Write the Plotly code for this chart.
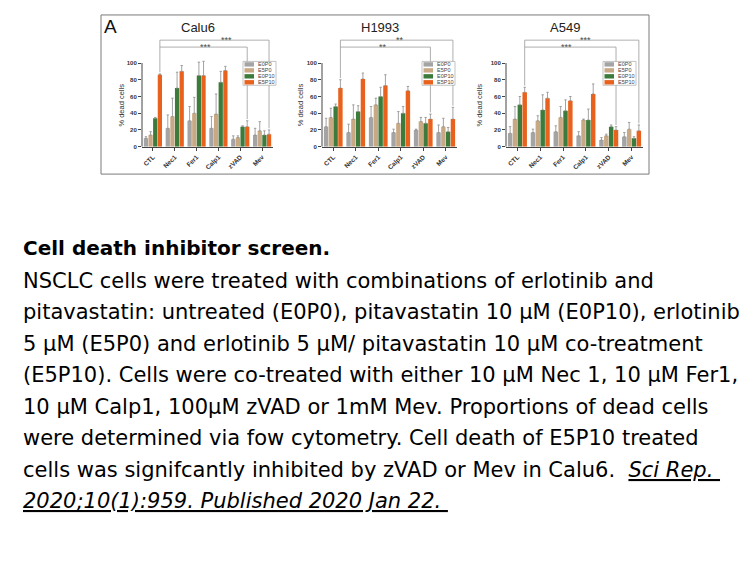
import plotly.graph_objects as go

# browser window size and the default page margin around the figure
WIN_W, WIN_H = 756, 567
OFF = 8
W, H = WIN_W - 2 * OFF, WIN_H - 2 * OFF

# ---------------- data ----------------
categories = ["CTL", "Nec1", "Fer1", "Calp1", "zVAD", "Mev"]
series_names = ["E0P0", "E5P0", "E0P10", "E5P10"]
series_colors = ["#a4a4a4", "#c9a985", "#3c7b3b", "#e8621d"]
panel_titles = ["Calu6", "H1993", "A549"]
y_ticks = [0, 20, 40, 60, 80, 100]
y_title = "% dead cells"

calu6_means = [
    [10, 22, 31, 22, 9, 14],
    [14, 36, 40, 39, 11, 19],
    [34, 70, 85, 77, 24, 14],
    [86, 90, 85, 91, 24, 15],
]
calu6_errs = [
    [2, 16, 17, 14, 4, 8],
    [4, 22, 19, 24, 2, 11],
    [1, 19, 16, 13, 1, 5],
    [1, 7, 17, 5, 7, 5],
]
h1993_means = [
    [24, 17, 35, 17, 20, 17],
    [35, 33, 50, 28, 30, 24],
    [48, 42, 60, 40, 28, 18],
    [70, 81, 73, 67, 33, 33],
]
h1993_errs = [
    [10, 10, 13, 4, 1, 9],
    [11, 17, 8, 14, 5, 10],
    [3, 7, 11, 8, 7, 5],
    [10, 7, 13, 5, 6, 14],
]
a549_means = [
    [16, 17, 18, 13, 8, 12],
    [33, 31, 35, 32, 13, 21],
    [50, 44, 43, 32, 24, 10],
    [65, 58, 55, 63, 20, 19],
]
a549_errs = [
    [8, 4, 7, 5, 3, 5],
    [15, 6, 13, 1, 2, 8],
    [10, 18, 13, 13, 2, 2],
    [6, 7, 5, 12, 4, 7],
]
sig_top = ["***", "**", "***"]   # CTL vs Mev
sig_low = ["***", "**", "***"]   # CTL vs zVAD
panel_letter = "A"

caption_title = "Cell death inhibitor screen."
caption_lines = [
    "NSCLC cells were treated with combinations of erlotinib and",
    "pitavastatin: untreated (E0P0), pitavastatin 10 µM (E0P10), erlotinib",
    "5 µM (E5P0) and erlotinib 5 µM/ pitavastatin 10 µM co-treatment",
    "(E5P10). Cells were co-treated with either 10 µM Nec 1, 10 µM Fer1,",
    "10 µM Calp1, 100µM zVAD or 1mM Mev. Proportions of dead cells",
    "were determined via fow cytometry. Cell death of E5P10 treated",
    "cells was signifcantly inhibited by zVAD or Mev in Calu6.  <i><u>Sci Rep. </u></i>",
    "<i><u>2020;10(1):959. Published 2020 Jan 22. </u></i>",
]

panels_means = [calu6_means, h1993_means, a549_means]
panels_errs = [calu6_errs, h1993_errs, a549_errs]

# ---------------- layout constants (window pixels) ----------------
def PX(x):
    return (x - OFF) / W

def PY(y):
    return 1 - (y - OFF) / H

plot_x_px = [(142, 273), (322, 457), (506, 643)]
y0_px, y100_px = 147.5, 63.3
y_top = 140
ppu = (y0_px - y100_px) / 100.0
ytop_px = y0_px - y_top * ppu

bargap = 0.15
bargroupgap = 0.08
orange_off = (1 - bargap) * (3.5 / 4 - 0.5)

bracket_top_y = 127.3
bracket_low_y = 119.0
star_top_x = [3.38, 2.97, 2.96]
star_low_x = [2.39, 2.22, 2.16]

title_px = [(197.5, 28), (380, 28), (565, 28)]
ytitle_px = [121.7, 300.5, 479.7]
legend_px = [(243, 61.7), (422, 61.7), (603, 61.7)]
leg_w, leg_h = 33, 24

AX_COLOR = "#444444"
FONT = "Liberation Sans"

fig = go.Figure()
shapes = []
annotations = []

for p in range(3):
    sfx = "" if p == 0 else str(p + 1)
    xname, yname = "x" + sfx, "y" + sfx
    means, errs = panels_means[p], panels_errs[p]
    for s in range(4):
        fig.add_trace(go.Bar(
            x=categories, y=means[s], name=series_names[s],
            marker=dict(color=series_colors[s], line=dict(width=0)),
            error_y=dict(type="data", symmetric=False, array=errs[s],
                         arrayminus=[0] * len(errs[s]), color="#8c8c8c",
                         thickness=0.8, width=1.2),
            xaxis=xname, yaxis=yname, showlegend=False, hoverinfo="skip",
        ))

    x0, x1 = plot_x_px[p]
    fig.update_layout(**{
        "xaxis" + sfx: dict(
            domain=[PX(x0), PX(x1)], anchor=yname, range=[-0.5, 5.5],
            showline=True, linecolor=AX_COLOR, linewidth=1,
            ticks="outside", ticklen=3, tickwidth=0.8, tickcolor=AX_COLOR,
            tickangle=-45, showgrid=False, zeroline=False,
            tickfont=dict(family=FONT, size=6.5, color="#333333", weight="bold"),
        ),
        "yaxis" + sfx: dict(
            domain=[PY(y0_px), PY(ytop_px)], anchor=xname, range=[0, y_top],
            tickvals=y_ticks, showline=False, showgrid=False, zeroline=False,
            ticks="outside", ticklen=3, tickwidth=0.8, tickcolor=AX_COLOR,
            tickfont=dict(family=FONT, size=6, color="#333333", weight="bold"),
        ),
    })

    # y axis line up to 100 only
    shapes.append(dict(type="line", xref="paper", yref=yname,
                       x0=PX(x0), x1=PX(x0), y0=0, y1=y_ticks[-1],
                       line=dict(color=AX_COLOR, width=1)))

    # significance brackets (CTL vs zVAD, CTL vs Mev on E5P10 bars)
    orange_m, orange_e = means[3], errs[3]
    i_ctl, i_zvad, i_mev = 0, categories.index("zVAD"), categories.index("Mev")
    xc, xz, xm = i_ctl + orange_off, i_zvad + orange_off, i_mev + orange_off
    bl = dict(color="#9a9a9a", width=0.8)
    shapes += [
        dict(type="line", xref=xname, yref=yname, x0=xc, x1=xc,
             y0=orange_m[i_ctl] + orange_e[i_ctl] + 2, y1=bracket_top_y, line=bl),
        dict(type="line", xref=xname, yref=yname, x0=xc, x1=xm,
             y0=bracket_top_y, y1=bracket_top_y, line=bl),
        dict(type="line", xref=xname, yref=yname, x0=xm, x1=xm,
             y0=orange_m[i_mev] + orange_e[i_mev] + 2, y1=bracket_top_y, line=bl),
        dict(type="line", xref=xname, yref=yname, x0=xc, x1=xz,
             y0=bracket_low_y, y1=bracket_low_y, line=bl),
        dict(type="line", xref=xname, yref=yname, x0=xz, x1=xz,
             y0=orange_m[i_zvad] + orange_e[i_zvad] + 2, y1=bracket_low_y, line=bl),
    ]
    annotations += [
        dict(xref=xname, yref=yname, x=star_top_x[p], y=bracket_top_y,
             text=sig_top[p], showarrow=False, yanchor="middle",
             font=dict(family=FONT, size=9, color="#4a4a4a")),
        dict(xref=xname, yref=yname, x=star_low_x[p], y=bracket_low_y,
             text=sig_low[p], showarrow=False, yanchor="middle",
             font=dict(family=FONT, size=9, color="#4a4a4a")),
    ]

    # panel title and y title
    tx, ty = title_px[p]
    annotations.append(dict(xref="paper", yref="paper", x=PX(tx), y=PY(ty),
                            text=panel_titles[p], showarrow=False,
                            xanchor="center", yanchor="middle",
                            font=dict(family=FONT, size=13, color="#222222")))
    annotations.append(dict(xref="paper", yref="paper", x=PX(ytitle_px[p]),
                            y=PY((y0_px + y100_px) / 2), text=y_title,
                            textangle=-90, showarrow=False,
                            xanchor="center", yanchor="middle",
                            font=dict(family=FONT, size=7.5, color="#333333")))

    # compact legend box
    lx, ly = legend_px[p]
    shapes.append(dict(type="rect", xref="paper", yref="paper",
                       x0=PX(lx), x1=PX(lx + leg_w), y0=PY(ly + leg_h), y1=PY(ly),
                       line=dict(color="#9a9a9a", width=0.6), fillcolor="white"))
    for s in range(4):
        cy = ly + 3 + 6 * s
        shapes.append(dict(type="rect", xref="paper", yref="paper",
                           x0=PX(lx + 1.5), x1=PX(lx + 11), y0=PY(cy + 2.2), y1=PY(cy - 2.2),
                           line=dict(width=0), fillcolor=series_colors[s]))
        annotations.append(dict(xref="paper", yref="paper", x=PX(lx + 12.5), y=PY(cy),
                                text=series_names[s], showarrow=False,
                                xanchor="left", yanchor="middle",
                                font=dict(family=FONT, size=5.5, color="#444444")))

# outer frame and panel letter
shapes.append(dict(type="rect", xref="paper", yref="paper",
                   x0=PX(101), x1=PX(649), y0=PY(175), y1=PY(15),
                   line=dict(color="#7a7a7a", width=1), layer="below"))
annotations.append(dict(xref="paper", yref="paper", x=PX(110), y=PY(26.5),
                        text=panel_letter, showarrow=False,
                        xanchor="center", yanchor="middle",
                        font=dict(family=FONT, size=19, color="#111111")))

# caption
CAP_FONT = "DejaVu Sans"
annotations.append(dict(xref="paper", yref="paper", x=PX(21), y=PY(249),
                        text="<b>" + caption_title + "</b>", showarrow=False,
                        xanchor="left", yanchor="middle",
                        font=dict(family=CAP_FONT, size=20, color="#000000")))
for i, line in enumerate(caption_lines):
    annotations.append(dict(xref="paper", yref="paper", x=PX(21), y=PY(282 + 31.7 * i),
                            text=line, showarrow=False,
                            xanchor="left", yanchor="middle",
                            font=dict(family=CAP_FONT, size=21, color="#000000")))

fig.update_layout(
    width=W, height=H, margin=dict(l=0, r=0, t=0, b=0),
    paper_bgcolor="white", plot_bgcolor="white",
    barmode="group", bargap=bargap, bargroupgap=bargroupgap,
    shapes=shapes, annotations=annotations, showlegend=False,
)

fig.write_html("out.html")
